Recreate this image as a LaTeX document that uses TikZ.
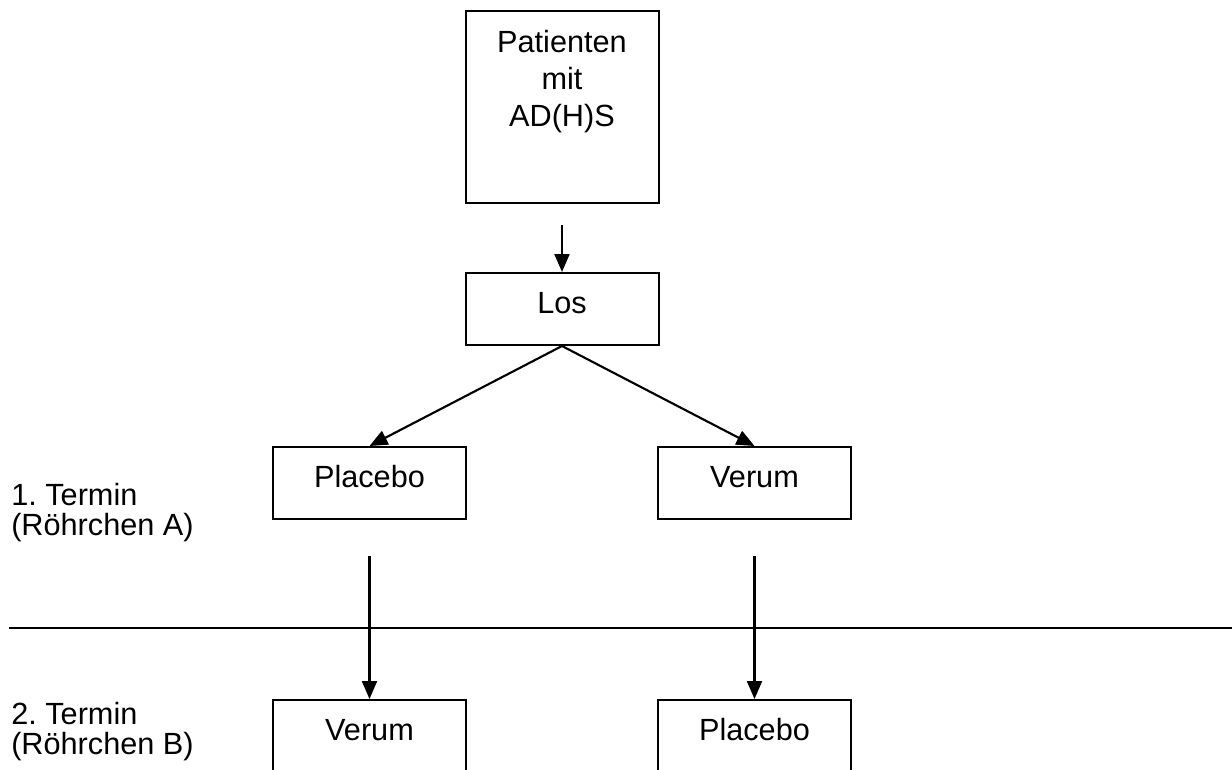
\documentclass[tikz,border=0pt]{standalone}
\usepackage{fontspec}
\setmainfont{Liberation Sans}
\usetikzlibrary{arrows.meta}
\frenchspacing

\tikzset{
  box/.style={draw, line width=1.5pt, minimum width=144.75pt, minimum height=54pt, inner sep=0pt,
    text height=16.5pt, text depth=9.75pt, font=\fontsize{23}{27.75}\selectfont},
  arr/.style={line width=1.6pt, -{Triangle[length=13.5pt,width=11.25pt]}},
  termin/.style={anchor=north west, inner sep=0pt, align=left, font=\fontsize{23}{22.5}\selectfont}
}

\begin{document}
\begin{tikzpicture}[x=0.75pt,y=0.75pt,yscale=-1,xscale=1]
\useasboundingbox (0,0) rectangle (1232,769);

%Shape: Rectangle [patients]
\node (pat) [draw, line width=1.5pt, minimum width=144.75pt, minimum height=144pt, inner sep=0pt] at (562,107) {};
% Text Node
\node (pattxt) [anchor=north, inner sep=0pt, align=center, font=\fontsize{23}{27.75}\selectfont] at (562,30) {Patienten\\mit\\AD(H)S};

%Shape: Rectangle [lottery]
\node (los) [box] at (562,309) {Los};

%Shape: Rectangle [first appointment]
\node (placeboA) [box] at (369.5,483) {Placebo};
\node (verumA) [box] at (754.5,483) {Verum};

%Shape: Rectangle [second appointment]
\node (verumB) [box] at (369.5,736) {Verum};
\node (placeboB) [box] at (754.5,736) {Placebo};

%Straight Lines
\draw [arr, shorten <=15.75pt] (pat.south) -- (los.north);
\draw [arr] (los.south) -- (placeboA.north);
\draw [arr] (los.south) -- (verumA.north);
\draw [arr, shorten <=27pt] (placeboA.south) -- (verumB.north);
\draw [arr, shorten <=27pt] (verumA.south) -- (placeboB.north);

%Straight Lines [separator]
\coordinate (sepL) at (9,628);
\coordinate (sepR) at (1232,628);
\draw [line width=1.5pt] (sepL) -- (sepR);

% Text Node
\node (terminA) [termin] at (11,483) {1. Termin\\(Röhrchen A)};
% Text Node
\node (terminB) [termin] at (11,702) {2. Termin\\(Röhrchen B)};
\end{tikzpicture}
\end{document}
